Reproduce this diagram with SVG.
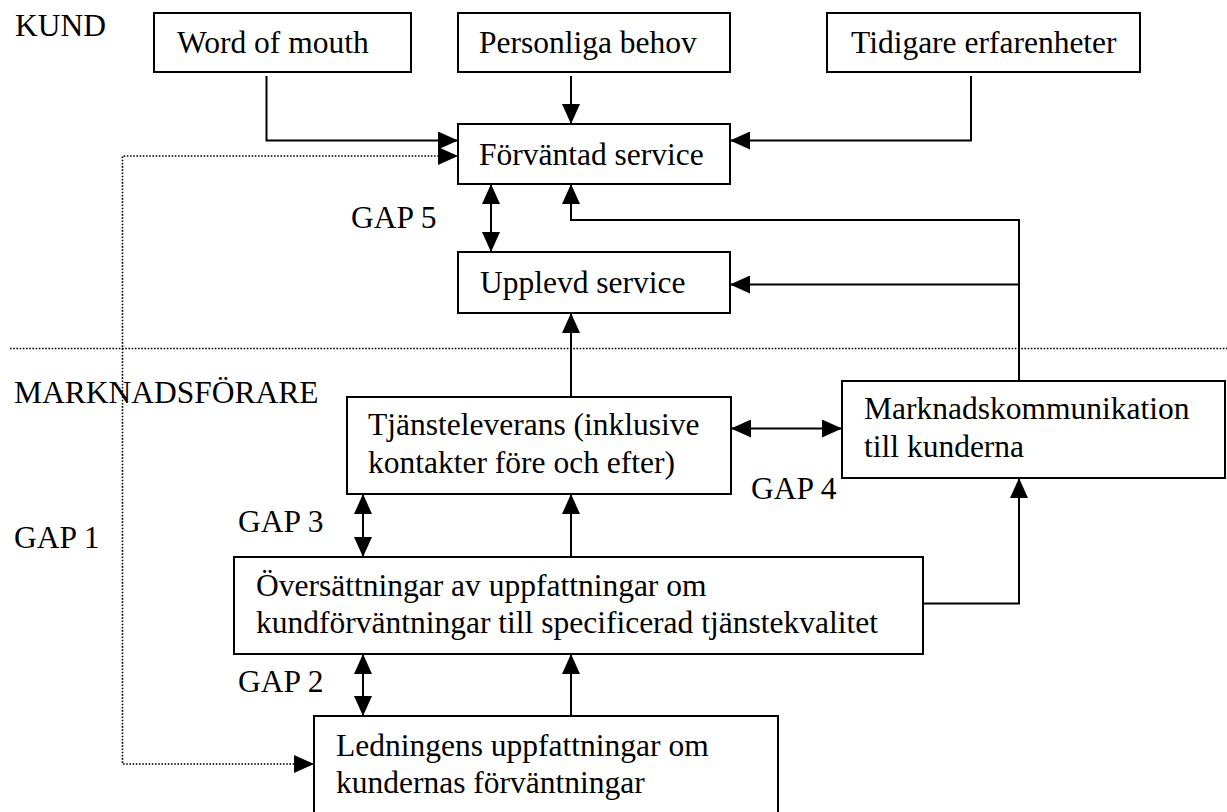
<svg xmlns="http://www.w3.org/2000/svg" width="1227" height="812" viewBox="0 0 1227 812">
  <style>
    .box { fill: #fff; stroke: #000; stroke-width: 2; }
    .lbl { font-family: "Liberation Serif", "Times New Roman", serif; font-size: 31.5px; fill: #000; }
    .wire { fill: none; stroke: #000; stroke-width: 2; }
    .dots { fill: none; stroke: #000; stroke-width: 1.6; stroke-dasharray: 1.6 1.6; }
  </style>
  <defs>
    <marker id="arrow" markerUnits="userSpaceOnUse" markerWidth="21" markerHeight="18" refX="20" refY="9" orient="auto-start-reverse" viewBox="0 0 21 18">
      <path d="M0,0 L20,9 L0,18 Z" fill="#000"/>
    </marker>
  </defs>
  <rect width="1227" height="812" fill="#fff"/>

  <!-- section headings and gap labels -->
  <g id="labels" class="lbl">
    <text x="15" y="36">KUND</text>
    <text x="14" y="403">MARKNADSFÖRARE</text>
    <text x="351" y="228">GAP 5</text>
    <text x="751" y="499">GAP 4</text>
    <text x="238" y="532">GAP 3</text>
    <text x="14" y="548">GAP 1</text>
    <text x="238" y="692">GAP 2</text>
  </g>

  <!-- connectors -->
  <g id="connectors">
    <path class="dots" d="M10 348.5 H1227"/>
    <path class="dots" d="M458 156 H122.5 V764 H314" marker-start="url(#arrow)" marker-end="url(#arrow)"/>
    <path class="wire" d="M266.5 76 V140.5 H458" marker-end="url(#arrow)"/>
    <path class="wire" d="M571 76 V124" marker-end="url(#arrow)"/>
    <path class="wire" d="M971 76 V140.5 H730" marker-end="url(#arrow)"/>
    <path class="wire" d="M491 184 V252" marker-start="url(#arrow)" marker-end="url(#arrow)"/>
    <path class="wire" d="M1019 381 V220 H571 V184" marker-end="url(#arrow)"/>
    <path class="wire" d="M1019 284.5 H730" marker-end="url(#arrow)"/>
    <path class="wire" d="M571 397 V313" marker-end="url(#arrow)"/>
    <path class="wire" d="M731 428.5 H842" marker-start="url(#arrow)" marker-end="url(#arrow)"/>
    <path class="wire" d="M363 494 V557" marker-start="url(#arrow)" marker-end="url(#arrow)"/>
    <path class="wire" d="M571 557 V494" marker-end="url(#arrow)"/>
    <path class="wire" d="M923 603.5 H1019 V478" marker-end="url(#arrow)"/>
    <path class="wire" d="M363 654 V716" marker-start="url(#arrow)" marker-end="url(#arrow)"/>
    <path class="wire" d="M571 716 V654" marker-end="url(#arrow)"/>
  </g>

  <!-- nodes -->
  <g id="word-of-mouth">
    <rect class="box" x="154" y="13" width="257" height="59"/>
    <text class="lbl" x="177" y="53">Word of mouth</text>
  </g>
  <g id="personliga-behov">
    <rect class="box" x="458" y="13" width="272" height="59"/>
    <text class="lbl" x="479" y="53">Personliga behov</text>
  </g>
  <g id="tidigare-erfarenheter">
    <rect class="box" x="827" y="13" width="313" height="59"/>
    <text class="lbl" x="851" y="53">Tidigare erfarenheter</text>
  </g>
  <g id="forvantad-service">
    <rect class="box" x="458" y="124" width="272" height="60"/>
    <text class="lbl" x="479" y="165">Förväntad service</text>
  </g>
  <g id="upplevd-service">
    <rect class="box" x="458" y="252" width="272" height="61"/>
    <text class="lbl" x="480" y="293">Upplevd service</text>
  </g>
  <g id="tjansteleverans">
    <rect class="box" x="347" y="397" width="384" height="97"/>
    <text class="lbl" x="368" y="435">Tjänsteleverans (inklusive</text>
    <text class="lbl" x="368" y="473">kontakter före och efter)</text>
  </g>
  <g id="marknadskommunikation">
    <rect class="box" x="842" y="381" width="383" height="97"/>
    <text class="lbl" x="864" y="419">Marknadskommunikation</text>
    <text class="lbl" x="864" y="457">till kunderna</text>
  </g>
  <g id="oversattningar">
    <rect class="box" x="234" y="557" width="689" height="97"/>
    <text class="lbl" x="256" y="596">Översättningar av uppfattningar om</text>
    <text class="lbl" x="256" y="633">kundförväntningar till specificerad tjänstekvalitet</text>
  </g>
  <g id="ledningens-uppfattningar">
    <rect class="box" x="314" y="716" width="464" height="110"/>
    <text class="lbl" x="336" y="756">Ledningens uppfattningar om</text>
    <text class="lbl" x="336" y="793">kundernas förväntningar</text>
  </g>
</svg>
